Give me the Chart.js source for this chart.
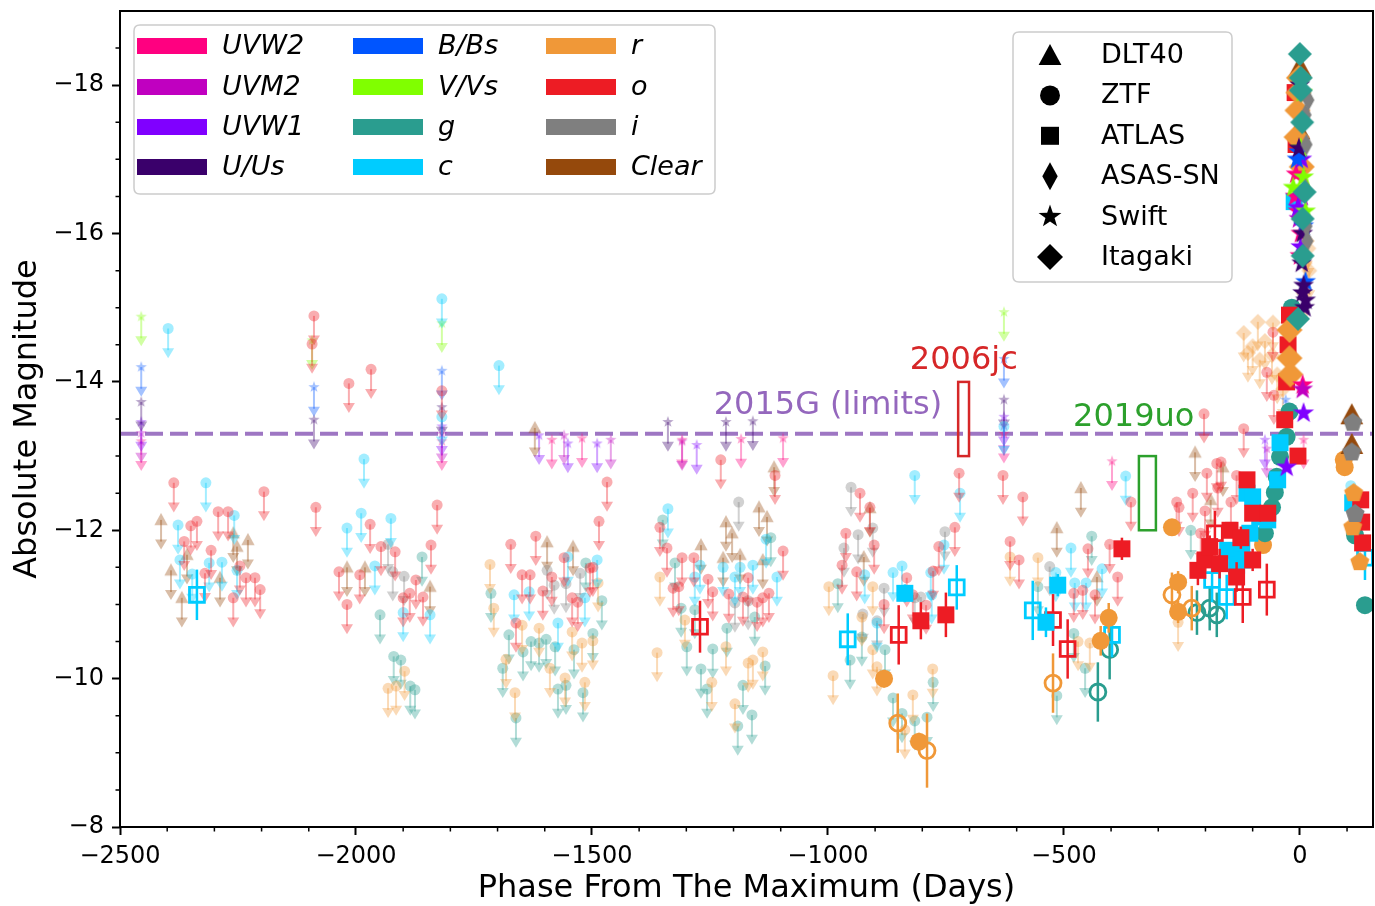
<!DOCTYPE html>
<html>
<head>
<meta charset="utf-8">
<script src="https://cdn.jsdelivr.net/npm/chart.js@4.4.0/dist/chart.umd.min.js"></script>
<style>
  html, body { margin: 0; padding: 0; background: #fff; }
  canvas { display: block; }
</style>
</head>
<body>
<canvas id="lc" width="1375" height="906"></canvas>
<script>
// ---- axes ----
const xTicks = [-2500, -2000, -1500, -1000, -500, 0];
const yTicks = [-18, -16, -14, -12, -10, -8];

// ---- reference lines / boxes ----
const sn2015gLimit = -13.3;
const sn2006jc = [-724, -701, -14.0, -13.0];   // x0, x1, y0, y1
const sn2019uo = [-341, -305, -13.0, -12.0];

// ---- upper limits [phase, mag] ----
const limO = [[-2386,-12.64],[-2292,-12.25],[-2271,-12.25],[-2350,-12.06],[-2337,-12.12],[-2364,-11.85],[-2307,-11.73],
  [-2246,-11.52],[-2233,-11.36],[-2214,-11.36],[-2203,-11.2],[-2320,-11.42],[-2260,-11.09],[-2195,-12.52],
  [-2089,-14.89],[-2093,-14.51],[-2015,-13.98],[-1968,-14.17],[-1818,-13.88],[-2085,-12.31],[-1970,-12.08],
  [-1828,-12.34],[-1841,-11.8],[-2036,-11.44],[-2019,-11.0],[-1992,-11.4],[-1947,-11.78],[-1917,-11.71],
  [-1873,-11.33],[-1858,-11.1],[-1900,-11.09],[-1886,-11.15],
  [-1672,-11.81],[-1619,-11.92],[-1648,-11.4],[-1631,-11.4],[-1604,-11.18],[-1585,-11.37],[-1559,-11.63],
  [-1504,-11.49],[-1498,-11.5],[-1542,-11.09],[-1530,-11.03],[-1661,-10.75],[-1468,-12.65],[-1485,-12.12],
  [-1227,-12.95],[-1112,-12.74],[-1356,-12.04],[-1095,-11.72],[-1341,-11.76],[-1309,-11.63],[-1284,-11.63],
  [-1169,-11.36],[-1254,-11.34],[-1328,-11.22],[-1316,-11.24],[-1210,-11.14],[-1180,-11.1],[-1150,-11.03],
  [-1138,-11.09],[-1125,-11.15],[-1244,-11.17],
  [-932,-12.5],[-911,-12.31],[-962,-11.96],[-902,-11.8],[-970,-11.53],[-939,-11.44],[-833,-11.36],[-881,-11.0],
  [-820,-11.13],[-777,-11.45],[-765,-11.78],[-731,-12.04],[-722,-12.77],[-792,-10.99],
  [-629,-12.74],[-587,-12.45],[-614,-11.85],[-595,-11.6],[-449,-11.75],[-403,-11.81],[-386,-11.37],[-479,-11.15],
  [-460,-11.19],[-434,-11.13],[-358,-12.38],
  [-203,-13.57],[-119,-13.37],[-57,-14.67],[-70,-14.13],[-55,-13.82],[-197,-12.77],[-176,-12.9],[-167,-12.92],
  [-134,-12.74],[-227,-12.5],[-174,-12.57],[-261,-12.38],[-256,-12.31],[-201,-12.26],[-146,-12.38],[-210,-11.96]];
const limC = [[-2398,-14.72],[-2318,-12.64],[-2377,-12.07],[-2258,-12.2],[-2311,-11.56],[-2284,-11.57],[-2347,-11.41],
  [-2373,-11.6],[-2252,-11.46],[-1818,-15.12],[-1818,-13.53],[-1983,-12.96],[-2019,-12.03],[-1989,-12.23],
  [-1926,-12.16],[-1960,-11.52],[-1900,-10.89],[-1843,-10.86],[-1697,-14.22],
  [-1665,-11.13],[-1633,-11.17],[-1551,-11.64],[-1489,-11.6],[-1515,-11.09],[-1572,-10.75],
  [-1339,-12.29],[-1131,-11.88],[-1271,-11.53],[-1222,-11.5],[-1186,-11.5],[-1159,-11.53],[-1108,-11.37],
  [-1282,-11.37],[-1197,-11.37],
  [-922,-11.4],[-862,-11.43],[-843,-11.52],[-782,-11.43],[-780,-11.13],[-754,-11.8],[-816,-12.74],[-720,-12.5],
  [-896,-10.75],[-517,-11.43],[-485,-11.76],[-419,-11.48],[-477,-11.29],[-453,-11.29],[-369,-12.73],[-627,-13.4],
  [108,-12.6]];
const limR = [[-1932,-9.87],[-1915,-9.9],[-1897,-10.1],
  [-1716,-11.54],[-1708,-10.95],[-1648,-10.72],[-1612,-10.68],[-1542,-10.63],[-1521,-10.48],[-1498,-10.51],
  [-1487,-11.29],[-1682,-10.26],[-1557,-10.01],[-1515,-9.95],[-1663,-9.81],[-1589,-10.14],
  [-1356,-11.37],[-1303,-10.79],[-1216,-10.43],[-1362,-10.35],[-1138,-10.36],[-1169,-10.21],[-1159,-10.25],
  [-1246,-9.95],[-1197,-9.66],
  [-998,-11.24],[-905,-11.24],[-905,-10.39],[-928,-10.83],[-989,-10.04],[-896,-10.16],[-820,-9.78],[-778,-10.13],
  [-837,-9.31],[-614,-11.64],[-555,-11.63],[-470,-10.5],[-445,-10.48],[-258,-10.76]];
const limG = [[-1949,-10.86],[-1860,-11.64],[-1920,-10.3],[-1905,-10.25],[-1885,-9.9],[-1875,-9.85],
  [-1714,-11.15],[-1676,-10.59],[-1629,-10.5],[-1612,-10.48],[-1597,-10.53],[-1646,-10.36],[-1498,-10.61],
  [-1538,-10.39],[-1578,-10.43],[-1689,-10.14],[-1572,-9.86],[-1555,-9.91],[-1519,-9.81],[-1661,-9.47],
  [-1513,-11.56],[-1479,-11.05],
  [-1350,-12.14],[-1121,-11.9],[-1324,-11.56],[-1311,-10.95],[-1282,-10.93],[-1155,-10.83],[-1214,-10.68],
  [-1299,-10.43],[-1244,-10.4],[-1133,-10.17],[-1269,-10.13],[-1256,-9.86],[-1180,-9.91],[-1191,-9.36],[-1161,-9.51],
  [-979,-11.28],[-928,-10.56],[-953,-10.25],[-879,-10.39],[-862,-9.74],[-843,-9.53],[-816,-9.43],[-790,-9.48],
  [-777,-9.95],[-441,-11.92],[-555,-11.24],[-479,-10.61],[-455,-10.14],[-515,-9.77],[-231,-12.0]];
const limI = [[-1932,-11.81],[-1922,-11.44],[-1898,-11.38],[-1595,-11.46],[-1580,-11.26],[-1555,-11.28],[-1525,-11.42],
  [-1189,-12.38],[-1197,-11.02],[-1169,-11.05],[-951,-12.58],[-905,-12.03],[-936,-11.94],[-966,-11.76],[-881,-11.22],
  [-926,-10.87],[-752,-11.98],[-896,-10.78],[-816,-11.09],[-803,-11.1],[-530,-11.51]];
const limClear = [[-2413,-12.14],[-2392,-11.46],[-2369,-11.09],[-2358,-11.67],[-2288,-11.36],[-2260,-11.96],[-2229,-11.87],
  [-2252,-11.78],[-2019,-11.5],[-1981,-11.5],[-1843,-11.24],[-1621,-13.38],[-1595,-11.84],[-1540,-11.78],
  [-1114,-12.85],[-1216,-12.11],[-1146,-12.31],[-1129,-12.18],[-1203,-11.96],[-1269,-11.8],[-1222,-11.63],
  [-1138,-11.6],[-1186,-11.67],[-911,-12.3],[-924,-11.64],[-464,-12.57],[-515,-12.03],[-430,-11.37],
  [-222,-13.05],[-163,-12.85],[-189,-12.41]];
const limV = [[-2455,-14.88],[-2093,-14.56],[-1818,-14.79],[-627,-14.94]];
const limB = [[-2455,-14.2],[-2089,-13.93],[-1818,-14.15],[-627,-14.31],[-30,-13.76]];
const limU = [[-2455,-13.73],[-2089,-13.49],[-1818,-13.66],[-627,-13.76],[-1339,-13.46],[-1216,-13.46],[-1159,-13.47]];
const limUVW1 = [[-2455,-13.46],[-1818,-13.4],[-627,-13.53],[-1612,-13.28],[-1551,-13.17],[-1489,-13.17],[-1278,-13.15],[-74,-13.22]];
const limUVM2 = [[-2455,-13.31],[-1818,-13.3],[-627,-13.41],[-1559,-13.28],[-1460,-13.22],[-1309,-13.2],[-70,-13.1]];
const limUVW2 = [[-2455,-13.2],[-1818,-13.2],[-627,-13.3],[-1585,-13.22],[-1521,-13.24],[-1309,-13.22],[-1184,-13.23],
  [-1095,-13.24],[-398,-12.93],[8,-13.22]];
const limAsasR = [[-119,-14.66],[-89,-14.81],[-57,-14.8],[-100,-14.48],[-74,-14.55],[-110,-14.39],[-59,-14.36],
  [-85,-14.3],[10,-15.6],[18,-15.8],[15,-15.9],[20,-15.5],[8,-15.2],[-48,-14.1],[-36,-13.9]];

// ---- detections [phase, mag, err] ----
const atlasO = [[-803,-10.78,0.25],[-750,-10.86,0.3],[-377,-11.75,0.15],[-216,-11.46,0.2],[-201,-11.6,0.15],
  [-191,-11.78,0.15],[-170,-11.55,0.2],[-148,-12.0,0.1],[-134,-11.37,0.2],[-125,-11.9,0.15],[-112,-12.68,0.1],
  [-100,-12.23,0.1],[-68,-12.23,0.1],[-100,-11.6,0.15],[-32,-13.49,0.08],[-28,-14.0,0.08],[-25,-14.5,0.05],
  [-22,-14.9,0.05],[-4,-13.0,0.05],[-10,-17.9,0.05],[-8,-17.2,0.05],[129,-12.41,0.1],[131,-12.11,0.1],[133,-11.83,0.1]];
const atlasOOpen = [[-1271,-10.7,0.35],[-850,-10.59,0.4],[-523,-10.79,0.35],[-492,-10.4,0.4],[-180,-11.96,0.3],
  [-121,-11.1,0.35],[-70,-11.2,0.35]];
const atlasC = [[-837,-11.15,0.12],[-513,-11.26,0.15],[-538,-10.76,0.2],[-112,-12.5,0.1],[-100,-12.45,0.1],
  [-85,-12.18,0.1],[-106,-11.96,0.1],[-153,-11.73,0.1],[-134,-11.53,0.1],[-123,-11.82,0.1],[-121,-11.6,0.12],
  [-68,-12.14,0.1],[-42,-13.18,0.08],[-47,-12.68,0.08],[-12,-16.43,0.05],[112,-12.37,0.1]];
const atlasCOpen = [[-2337,-11.13,0.34],[-958,-10.53,0.35],[-727,-11.23,0.3],[-566,-10.92,0.4],[-398,-10.59,0.3],
  [-186,-11.33,0.3],[-155,-11.1,0.3],[138,-11.63,0.3]];
const ztfR = [[-881,-10.0,0.12],[-807,-9.15,0.12],[-405,-10.82,0.2],[-422,-10.51,0.2],[-271,-12.04,0.1],
  [-258,-11.3,0.15],[-258,-10.9,0.15],[-78,-11.8,0.1],[93,-12.95,0.05],[95,-12.85,0.05]];
const ztfROpen = [[-852,-9.4,0.4],[-790,-9.03,0.5],[-523,-9.94,0.4],[-271,-11.13,0.3],[-229,-10.95,0.3]];
const ztfG = [[-74,-11.96,0.08],[-59,-12.31,0.08],[-53,-12.51,0.08],[-49,-12.72,0.08],[-42,-12.99,0.06],
  [-28,-13.26,0.06],[-22,-13.6,0.06],[-17,-15.0,0.05],[117,-11.93,0.1],[138,-10.99,0.1]];
const ztfGOpen = [[-428,-9.82,0.4],[-403,-10.39,0.4],[-218,-10.89,0.3],[-191,-10.95,0.3],[-176,-10.86,0.3]];

// ---- around maximum ----
const dltClear = [[0,-18.24],[-2,-17.39],[110,-13.55],[110,-13.15]];
const itaR = [[-5,-17.66],[-7,-17.3],[-3,-17.9],[-2,-18.1],[4,-16.9],[-22,-14.7],[-22,-14.32],[-20,-14.1]];
const itaG = [[0,-18.42],[2,-17.93],[10,-16.56],[2,-18.1],[5,-17.5],[6,-16.2],[6,-15.7],[-4,-14.85]];
const asasI = [[12,-17.6],[14,-17.2],[12,-16.6],[14,-16.1],[16,-15.9],[18,-17.8]];
const swUVW2 = [[-8,-16.8],[-4,-16.3],[2,-16.0],[-10,-16.5],[0,-15.7],[6,-13.96]];
const swUVM2 = [[4,-16.5],[-2,-16.2],[6,-13.9]];
const swUVW1 = [[2,-15.82],[-4,-16.35],[4,-17.0],[8,-13.58],[-28,-12.85]];
const swB = [[-6,-17.0],[-2,-17.1],[8,-16.1],[12,-15.35]];
const swV = [[8,-16.76],[-14,-16.62],[6,-17.9],[2,-17.15],[12,-16.3]];
const swU = [[4,-15.6],[8,-15.3],[10,-15.0],[6,-15.2],[12,-15.1],[-2,-17.15],[6,-16.0],[0,-18.0]];
const lateI = [[112,-13.45],[110,-13.05],[117,-12.22]];
const lateR = [[112,-12.04],[127,-11.57],[114,-12.5]];

// ---- colours ----
const COL = {
  UVW2: "255,0,128", UVM2: "192,0,192", UVW1: "128,0,255", U: "58,0,107",
  B: "0,85,255", V: "128,255,0", g: "42,157,143", c: "0,204,255",
  r: "240,152,56", o: "237,28,36", i: "127,127,127", Clear: "149,73,12",
};
const FONT = "'DejaVu Sans', sans-serif";
const LIM_A = 0.36;
const ARROW_LEN = 0.4;
const rgba = (c, a) => `rgba(${c},${a})`;

function shapePath(g, kind, x, y, r) {
  g.beginPath();
  if (kind === "star") {
    for (let k = 0; k < 10; k++) {
      const rr = k % 2 ? r * 0.4 : r;
      const a = -Math.PI / 2 + (k * Math.PI) / 5;
      g.lineTo(x + rr * Math.cos(a), y + rr * Math.sin(a));
    }
  } else if (kind === "thin") {
    g.moveTo(x, y - r); g.lineTo(x + r * 0.55, y); g.lineTo(x, y + r); g.lineTo(x - r * 0.55, y);
  } else if (kind === "diamond") {
    g.moveTo(x, y - r); g.lineTo(x + r, y); g.lineTo(x, y + r); g.lineTo(x - r, y);
  } else if (kind === "tri") {
    g.moveTo(x, y - r); g.lineTo(x + r * 0.95, y + r * 0.75); g.lineTo(x - r * 0.95, y + r * 0.75);
  } else if (kind === "pent") {
    for (let k = 0; k < 5; k++) {
      const a = -Math.PI / 2 + (k * 2 * Math.PI) / 5;
      g.lineTo(x + r * Math.cos(a), y + r * Math.sin(a));
    }
  } else if (kind === "circle") {
    g.arc(x, y, r, 0, Math.PI * 2);
  } else if (kind === "square") {
    g.rect(x - r, y - r, 2 * r, 2 * r);
  }
  g.closePath();
}

function glyph(kind, fill, r) {
  const c = document.createElement("canvas");
  c.width = c.height = Math.ceil(2 * r + 4);
  const g = c.getContext("2d");
  shapePath(g, kind, c.width / 2, c.height / 2, r);
  g.fillStyle = fill;
  g.fill();
  return c;
}

const datasets = [];
function addSet(data, opts) {
  datasets.push(Object.assign({
    data: data.map((p) => ({ x: p[0], y: p[1] })),
    err: data.map((p) => p[2] || 0),
    showLine: false,
    pointBorderWidth: 0,
  }, opts));
}

// upper limits (drawn behind)
function limitSet(data, key, kind, r) {
  const col = rgba(COL[key], LIM_A);
  const o = { limit: true, arrowColor: col, order: 20 };
  if (kind === "circle") Object.assign(o, { pointStyle: "circle", pointRadius: r, pointBackgroundColor: col });
  else Object.assign(o, { pointStyle: glyph(kind, col, r), pointRadius: r });
  addSet(data, o);
}
limitSet(limO, "o", "circle", 5.5);
limitSet(limC, "c", "circle", 5.5);
limitSet(limR, "r", "circle", 5.5);
limitSet(limG, "g", "circle", 5.5);
limitSet(limI, "i", "circle", 5.5);
limitSet(limClear, "Clear", "tri", 7);
limitSet(limV, "V", "star", 6);
limitSet(limB, "B", "star", 6);
limitSet(limU, "U", "star", 6);
limitSet(limUVW1, "UVW1", "star", 6);
limitSet(limUVM2, "UVM2", "star", 6);
limitSet(limUVW2, "UVW2", "star", 6);
limitSet(limAsasR, "r", "diamond", 8);

// detections
function detSet(data, key, style, r, open, order) {
  const col = rgba(COL[key], 1);
  addSet(data, {
    errColor: col, order: order || 5,
    pointStyle: style, pointRadius: r,
    pointBackgroundColor: open ? "rgba(0,0,0,0)" : col,
    pointBorderColor: col, pointBorderWidth: open ? 2.8 : 0,
  });
}
detSet(atlasOOpen, "o", "rect", 10.5, true);
detSet(atlasCOpen, "c", "rect", 10.5, true);
detSet(ztfROpen, "r", "circle", 8, true);
detSet(ztfGOpen, "g", "circle", 8, true);
detSet(ztfG, "g", "circle", 9, false, 4);
detSet(ztfR, "r", "circle", 9, false, 4);
detSet(atlasO, "o", "rect", 12, false, 3);
detSet(atlasC, "c", "rect", 12, false, 3);

function peakSet(data, key, kind, r) {
  addSet(data, { order: 2, pointStyle: glyph(kind, rgba(COL[key], 1), r), pointRadius: r });
}
peakSet(itaG, "g", "diamond", 12);
peakSet(asasI, "i", "thin", 11);
peakSet(swU, "U", "star", 11);
peakSet(swB, "B", "star", 11);
peakSet(swV, "V", "star", 11);
peakSet(swUVW1, "UVW1", "star", 11);
peakSet(swUVM2, "UVM2", "star", 11);
peakSet(swUVW2, "UVW2", "star", 11);
peakSet(itaR, "r", "diamond", 13);
peakSet(lateI, "i", "pent", 10);
peakSet(lateR, "r", "pent", 10);
peakSet(dltClear, "Clear", "tri", 12);

// ---- plugins ----
const markPlugin = {
  id: "marks",
  beforeDatasetDraw(chart, args) {
    const ds = chart.data.datasets[args.index];
    const g = chart.ctx;
    const ys = chart.scales.y;
    g.save();
    if (ds.limit) {
      g.strokeStyle = ds.arrowColor;
      g.fillStyle = ds.arrowColor;
      g.lineWidth = 2;
      args.meta.data.forEach((el, i) => {
        const tip = ys.getPixelForValue(ds.data[i].y + ARROW_LEN);
        g.beginPath(); g.moveTo(el.x, el.y); g.lineTo(el.x, tip - 8); g.stroke();
        g.beginPath(); g.moveTo(el.x - 6, tip - 10); g.lineTo(el.x + 6, tip - 10); g.lineTo(el.x, tip);
        g.closePath(); g.fill();
      });
    } else if (ds.errColor) {
      g.strokeStyle = ds.errColor;
      g.lineWidth = 2.5;
      args.meta.data.forEach((el, i) => {
        const e = ds.err[i];
        if (!e) return;
        g.beginPath();
        g.moveTo(el.x, ys.getPixelForValue(ds.data[i].y - e));
        g.lineTo(el.x, ys.getPixelForValue(ds.data[i].y + e));
        g.stroke();
      });
    }
    g.restore();
  },
};

const refPlugin = {
  id: "refs",
  beforeDatasetsDraw(chart) {
    const g = chart.ctx, a = chart.chartArea, ys = chart.scales.y;
    const y = ys.getPixelForValue(sn2015gLimit);
    g.save();
    g.strokeStyle = "rgba(148,103,189,0.9)";
    g.lineWidth = 4;
    g.setLineDash([18, 7]);
    g.beginPath(); g.moveTo(a.left, y); g.lineTo(a.right, y); g.stroke();
    g.restore();
  },
  afterDatasetsDraw(chart) {
    const g = chart.ctx, xs = chart.scales.x, ys = chart.scales.y;
    g.save();
    g.lineWidth = 2.5;
    [[sn2006jc, "#d62728"], [sn2019uo, "#2ca02c"]].forEach(([b, c]) => {
      const x0 = xs.getPixelForValue(b[0]), x1 = xs.getPixelForValue(b[1]);
      const y0 = ys.getPixelForValue(b[2]), y1 = ys.getPixelForValue(b[3]);
      g.strokeStyle = c;
      g.strokeRect(x0, y0, x1 - x0, y1 - y0);
    });
    g.font = "32px " + FONT;
    g.textAlign = "center";
    g.textBaseline = "alphabetic";
    const txt = [["2015G (limits)", -1000, -13.57, "#9467bd"], ["2006jc", -712, -14.17, "#d62728"], ["2019uo", -352, -13.4, "#2ca02c"]];
    txt.forEach(([t, x, y, c]) => {
      g.fillStyle = c;
      g.fillText(t, xs.getPixelForValue(x), ys.getPixelForValue(y));
    });
    // frame + minor ticks
    const a = chart.chartArea;
    g.strokeStyle = "#000";
    g.lineWidth = 2;
    g.strokeRect(a.left, a.top, a.right - a.left, a.bottom - a.top);
    g.lineWidth = 1.5;
    g.beginPath();
    for (let v = -2400; v <= 100; v += 100) {
      if (v % 500 === 0) continue;
      const px = xs.getPixelForValue(v);
      g.moveTo(px, a.bottom); g.lineTo(px, a.bottom + 4.5);
    }
    for (let v = -18.5; v <= -8.5; v += 0.5) {
      if (v % 2 === 0) continue;
      const py = ys.getPixelForValue(v);
      g.moveTo(a.left, py); g.lineTo(a.left - 4.5, py);
    }
    g.stroke();
    g.restore();
  },
};

const filterLegend = [
  ["UVW2", "UVM2", "UVW1", "U/Us"],
  ["B/Bs", "V/Vs", "g", "c"],
  ["r", "o", "i", "Clear"],
];
const filterKeys = [["UVW2", "UVM2", "UVW1", "U"], ["B", "V", "g", "c"], ["r", "o", "i", "Clear"]];
const surveyLegend = [["tri", "DLT40"], ["circle", "ZTF"], ["square", "ATLAS"], ["thin", "ASAS-SN"], ["star", "Swift"], ["diamond", "Itagaki"]];

function roundBox(g, x, y, w, h, r) {
  g.beginPath();
  g.moveTo(x + r, y); g.lineTo(x + w - r, y); g.quadraticCurveTo(x + w, y, x + w, y + r);
  g.lineTo(x + w, y + h - r); g.quadraticCurveTo(x + w, y + h, x + w - r, y + h);
  g.lineTo(x + r, y + h); g.quadraticCurveTo(x, y + h, x, y + h - r);
  g.lineTo(x, y + r); g.quadraticCurveTo(x, y, x + r, y);
  g.closePath();
  g.fillStyle = "rgba(255,255,255,0.85)"; g.fill();
  g.strokeStyle = "#cccccc"; g.lineWidth = 1.5; g.stroke();
}

const legendPlugin = {
  id: "legends",
  afterDraw(chart) {
    const g = chart.ctx;
    g.save();
    roundBox(g, 134, 25, 581, 169, 6);
    const colX = [137, 353, 546];
    const rowY = [46, 87, 127, 167];
    g.font = "italic 27px " + FONT;
    g.textBaseline = "middle";
    g.textAlign = "left";
    filterLegend.forEach((col, ci) => {
      col.forEach((name, ri) => {
        g.fillStyle = rgba(COL[filterKeys[ci][ri]], 1);
        g.fillRect(colX[ci], rowY[ri] - 8, 70, 16);
        g.fillStyle = "#000";
        g.fillText(name, colX[ci] + 85, rowY[ri] + 1);
      });
    });
    roundBox(g, 1013, 32, 219, 250, 6);
    g.font = "27px " + FONT;
    surveyLegend.forEach(([kind, name], k) => {
      const y = 55 + k * 40.4;
      const r = { tri: 12, circle: 10, square: 9, thin: 14, star: 12, diamond: 13 }[kind];
      shapePath(g, kind, 1050, kind === "tri" ? y + 1 : y, r);
      g.fillStyle = "#000";
      g.fill();
      g.fillText(name, 1101, y + 1);
    });
    g.restore();
  },
};

const minus = (v) => (v < 0 ? "\u2212" + Math.abs(v) : String(v));

new Chart(document.getElementById("lc"), {
  type: "scatter",
  data: { datasets },
  options: {
    responsive: false,
    animation: false,
    events: [],
    layout: { autoPadding: false, padding: { top: 11, right: 2, left: 0, bottom: 0 } },
    plugins: { legend: { display: false }, tooltip: { enabled: false } },
    scales: {
      x: {
        type: "linear", min: -2500, max: 155,
        afterBuildTicks: (s) => { s.ticks = xTicks.map((v) => ({ value: v })); },
        afterFit: (s) => { s.height = 79; s.paddingLeft = 0; s.paddingRight = 0; },
        border: { display: false },
        grid: { display: true, drawOnChartArea: false, drawTicks: true, tickLength: 8, tickWidth: 2, tickColor: "#000" },
        ticks: { color: "#000", font: { family: FONT, size: 24 }, padding: 7, maxRotation: 0, callback: minus },
        title: { display: true, text: "Phase From The Maximum (Days)", color: "#000", font: { family: FONT, size: 32, lineHeight: 1.1 }, padding: { top: 0, bottom: 0 } },
      },
      y: {
        type: "linear", min: -19, max: -8, reverse: true,
        afterBuildTicks: (s) => { s.ticks = yTicks.map((v) => ({ value: v })); },
        afterFit: (s) => { s.width = 120; s.paddingTop = 0; s.paddingBottom = 0; },
        border: { display: false },
        grid: { display: true, drawOnChartArea: false, drawTicks: true, tickLength: 8, tickWidth: 2, tickColor: "#000" },
        ticks: { color: "#000", font: { family: FONT, size: 24 }, padding: 8, callback: minus },
        title: { display: true, text: "Absolute Magnitude", color: "#000", font: { family: FONT, size: 32 }, padding: { top: 8, bottom: 0 } },
      },
    },
  },
  plugins: [refPlugin, markPlugin, legendPlugin],
});
</script>
</body>
</html>
